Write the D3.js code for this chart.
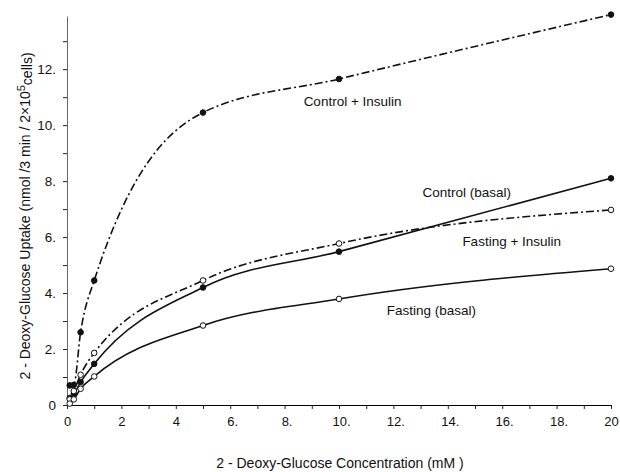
<!DOCTYPE html>
<html>
<head>
<meta charset="utf-8">
<script src="https://cdn.jsdelivr.net/npm/d3@7"></script>
<style>
  body { margin: 0; background: #fff; }
  text { font-family: "Liberation Sans", Arial, sans-serif; fill: #111; }
</style>
</head>
<body>
<div id="chart"></div>
<script>
// concentrations (mM)
let conc = [0.1, 0.25, 0.5, 1, 5, 10, 20];

// uptake values
let controlInsulin = [0.7, 0.72, 2.6, 4.45, 10.45, 11.65, 13.95];
let controlBasal = [0.25, 0.4, 0.82, 1.47, 4.2, 5.48, 8.1];
let fastingInsulin = [0.2, 0.5, 1.08, 1.86, 4.45, 5.77, 6.97];
let fastingBasal = [0.05, 0.2, 0.58, 1.02, 2.84, 3.79, 4.87];

let xTickValues = [0, 2, 4, 6, 8, 10, 12, 14, 16, 18, 20];
let xTickLabels = ["0", "2", "4", "6.", "8.", "10.", "12.", "14.", "16.", "18.", "20"];
let yTickValues = [0, 2, 4, 6, 8, 10, 12];
let yTickLabels = ["0", "2.", "4.", "6.", "8.", "10.", "12."];

let seriesNames = ["Control + Insulin", "Control (basal)", "Fasting + Insulin", "Fasting (basal)"];

let svgWidth = 620;
let svgHeight = 472;

let svg = d3.select("#chart")
  .append("svg")
  .attr("width", svgWidth)
  .attr("height", svgHeight);

let xScale = d3.scaleLinear().domain([0, 20]).range([67, 611]);
let yScale = d3.scaleLinear().domain([0, 13.9]).range([405, 16]);

// x axis
let xAxis = d3.axisBottom(xScale)
  .tickValues(xTickValues)
  .tickSize(4)
  .tickSizeOuter(0)
  .tickFormat((d, i) => xTickLabels[i]);

let gx = svg.append("g")
  .attr("transform", `translate(0, ${yScale(0)})`)
  .call(xAxis);
gx.selectAll("text")
  .attr("font-size", "13px")
  .attr("dy", "1.05em")
  .attr("dx", (d, i) => xTickLabels[i].endsWith(".") ? "0.15em" : 0);

// minor x ticks
svg.append("g")
  .attr("transform", `translate(0, ${yScale(0)})`)
  .call(d3.axisBottom(xScale).tickValues(d3.range(1, 20, 2)).tickSize(4).tickFormat(""))
  .call(g => g.select(".domain").remove());

// y axis
let yAxis = d3.axisLeft(yScale)
  .tickValues(yTickValues)
  .tickSize(4)
  .tickSizeOuter(0)
  .tickFormat((d, i) => yTickLabels[i]);

let gy = svg.append("g")
  .attr("transform", `translate(${xScale(0)}, 0)`)
  .call(yAxis);
gy.selectAll("text").attr("font-size", "13.5px").attr("dx", "-0.3em");
gy.select(".domain").attr("stroke", "#666");

svg.append("g")
  .attr("transform", `translate(${xScale(0)}, 0)`)
  .call(d3.axisLeft(yScale).tickValues(d3.range(1, 14, 2)).tickSize(4).tickFormat(""))
  .call(g => g.select(".domain").remove());

svg.selectAll(".tick line").attr("stroke", "#222");

// lines
let line = d3.line()
  .x((d, i) => xScale(conc[i]))
  .y(d => yScale(d))
  .curve(d3.curveMonotoneX);

let series = [
  { name: seriesNames[0], values: controlInsulin, dash: "8,3,2,3", filled: true },
  { name: seriesNames[1], values: controlBasal, dash: null, filled: true },
  { name: seriesNames[2], values: fastingInsulin, dash: "8,3,2,3", filled: false },
  { name: seriesNames[3], values: fastingBasal, dash: null, filled: false }
];

series.forEach(function(s) {
  svg.append("path")
    .datum(s.values)
    .attr("d", line)
    .attr("fill", "none")
    .attr("stroke", "#111")
    .attr("stroke-width", 1.6)
    .attr("stroke-dasharray", s.dash);

  svg.selectAll(null)
    .data(s.values)
    .enter()
    .append("circle")
    .attr("cx", (d, i) => xScale(conc[i]))
    .attr("cy", d => yScale(d))
    .attr("r", 2.8)
    .attr("fill", s.filled ? "#111" : "#fff")
    .attr("stroke", "#111")
    .attr("stroke-width", 1);
});

// series labels
let labelPos = [
  { x: 10.5, y: 10.68 },
  { x: 14.7, y: 7.43 },
  { x: 16.35, y: 5.68 },
  { x: 13.4, y: 3.22 }
];

svg.selectAll(".series-label")
  .data(seriesNames)
  .enter()
  .append("text")
  .attr("class", "series-label")
  .attr("x", (d, i) => xScale(labelPos[i].x))
  .attr("y", (d, i) => yScale(labelPos[i].y))
  .attr("text-anchor", "middle")
  .attr("font-size", "13.5px")
  .text(d => d);

// axis titles
svg.append("text")
  .attr("x", 340)
  .attr("y", 468)
  .attr("text-anchor", "middle")
  .attr("font-size", "14px")
  .text("2 - Deoxy-Glucose Concentration (mM )");

let yTitle = svg.append("text")
  .attr("transform", "translate(30, 216) rotate(-90)")
  .attr("text-anchor", "middle")
  .attr("font-size", "14px");
yTitle.append("tspan").text("2 - Deoxy-Glucose Uptake (nmol /3 min / 2\u00d710");
yTitle.append("tspan").attr("dy", "-0.5em").attr("font-size", "11px").text("5");
yTitle.append("tspan").attr("dy", "0.5em").text("cells)");
</script>
</body>
</html>
